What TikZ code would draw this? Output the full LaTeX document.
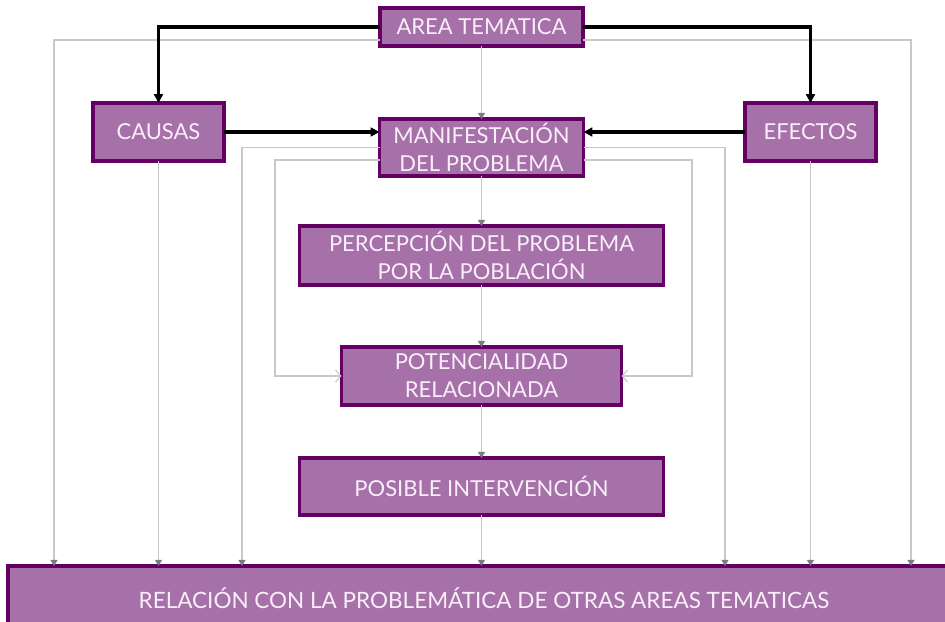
\documentclass[tikz,border=0pt]{standalone}
\usepackage{fontspec}
\setmainfont{Lato}
\usetikzlibrary{positioning, arrows.meta}
\definecolor{my_purple}{RGB}{166, 112, 168}
\definecolor{my_darkpurple}{RGB}{100, 0, 100}
\definecolor{my_gray}{RGB}{200, 200, 200}
\definecolor{my_tip}{RGB}{120, 126, 126}
\definecolor{my_text}{RGB}{250, 238, 250}
\tikzset {
  box/.style = {draw=my_darkpurple, line width=2.2pt, fill=my_purple, text=my_text, align=center, outer sep=0pt, inner sep=2pt, font=\fontsize{12.5}{16}\selectfont},
  line/.style = {-{Triangle[length=5pt, width=5pt]}, line width=1.8pt, color=black},
  feed/.style = {-{Triangle[length=3.5pt, width=4pt, color=my_tip, fill=my_tip]}, line width=0.6pt, color=my_gray},
  openline/.style = {-{Straight Barb[length=3pt, width=7pt]}, line width=0.6pt, color=my_gray},
}

\begin{document}
\begin{tikzpicture}[node distance=1cm]
    \clip (0,0) rectangle (18.9,12.44);

    \node[box, minimum width=4.06cm, minimum height=0.76cm, name=area] (area) at (9.63,11.9) {AREA TEMATICA};
    \node[box, minimum width=4.08cm, minimum height=1.14cm, name=manif, below=1.46cm of area] (manif) {MANIFESTACIÓN\\DEL PROBLEMA};
    \node[box, minimum width=2.62cm, minimum height=1.16cm, name=causas] (causas) at (3.17,9.8) {CAUSAS};
    \node[box, minimum width=2.62cm, minimum height=1.16cm, name=efectos] (efectos) at (16.21,9.8) {EFECTOS};
    \node[box, minimum width=7.28cm, minimum height=1.18cm, name=percep, below=1.0cm of manif] (percep) {PERCEPCIÓN DEL PROBLEMA\\POR LA POBLACIÓN};
    \node[box, minimum width=5.6cm, minimum height=1.16cm, name=poten, below=1.24cm of percep] (poten) {POTENCIALIDAD\\RELACIONADA};
    \node[box, minimum width=7.28cm, minimum height=1.14cm, name=posible, below=1.06cm of poten] (posible) {POSIBLE INTERVENCIÓN};
    \node[box, minimum width=19.04cm, minimum height=1.28cm, name=bar, font=\fontsize{12.8}{16}\selectfont] (bar) at (9.68,0.48) {RELACIÓN CON LA PROBLEMÁTICA DE OTRAS AREAS TEMATICAS};

    % drop lines
    \coordinate (farl) at (1.08,0);
    \coordinate (farr) at (18.22,0);
    \coordinate (midl) at (4.84,0);
    \coordinate (midr) at (14.5,0);
    \coordinate (innl) at (5.5,0);
    \coordinate (innr) at (13.84,0);

    \draw[feed] ([yshift=0.12cm]area.south west) -| (farl |- bar.north);
    \draw[feed] ([yshift=0.12cm]area.south east) -| (farr |- bar.north);
    \draw[feed] (causas.south) -- (causas.south |- bar.north);
    \draw[feed] (efectos.south) -- (efectos.south |- bar.north);
    \draw[feed] (manif.west) -| (midl |- bar.north);
    \draw[feed] (manif.east) -| (midr |- bar.north);
    \draw[openline] ([yshift=-0.25cm]manif.west) -| (innl |- poten.west) -- (poten.west);
    \draw[openline] ([yshift=-0.25cm]manif.east) -| (innr |- poten.east) -- (poten.east);

    \draw[feed] (area.south) -- (manif.north);
    \draw[feed] (manif.south) -- (percep.north);
    \draw[feed] (percep.south) -- (poten.north);
    \draw[feed] (poten.south) -- (posible.north);
    \draw[feed] (posible.south) -- (posible.south |- bar.north);

    \draw[line] (area.west) -| (causas.north);
    \draw[line] (area.east) -| (efectos.north);
    \draw[line] (causas.east) -- (causas.east -| manif.west);
    \draw[line] (efectos.west) -- (efectos.west -| manif.east);

\end{tikzpicture}
\end{document}
